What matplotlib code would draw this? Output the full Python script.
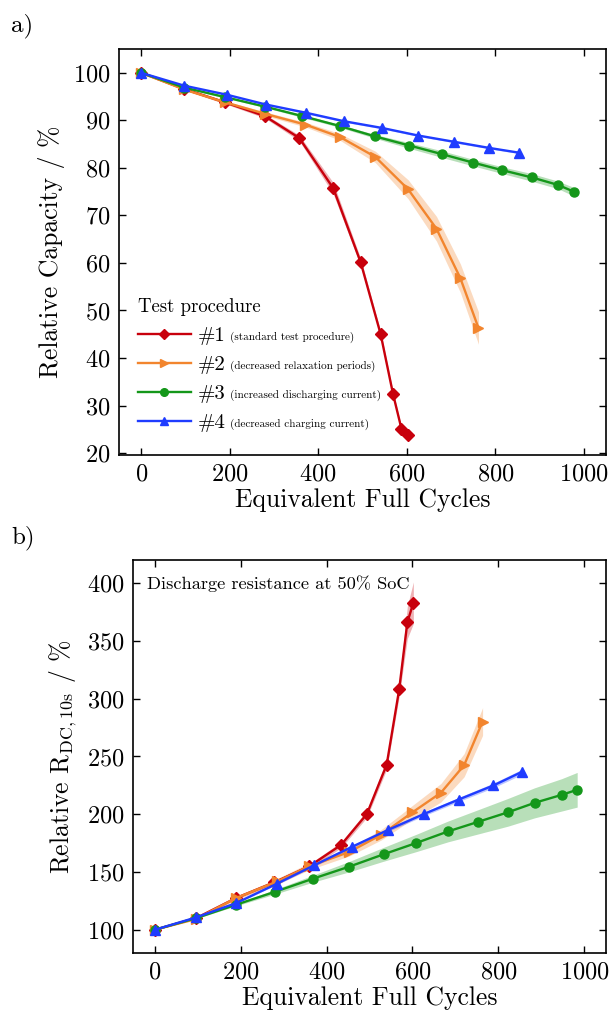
import matplotlib
matplotlib.use("Agg")
import matplotlib.pyplot as plt
import numpy as np

plt.rcParams['font.family'] = ['cmr10', 'DejaVu Serif']
plt.rcParams['mathtext.fontset'] = 'cm'
plt.rcParams['axes.unicode_minus'] = False
plt.rcParams['axes.formatter.use_mathtext'] = True

# ---------------- data: panel a (relative capacity) ----------------
cap_x1 = [0, 97, 189, 279, 357, 434, 496, 541, 569, 588, 602]
cap_y1 = [100, 96.6, 93.8, 90.9, 86.3, 75.7, 60.1, 45.0, 32.4, 25.1, 23.8]
cap_e1 = [0, 0.2, 0.3, 0.4, 0.6, 1.2, 0.8, 0.6, 0.5, 0.4, 0.4]

cap_x2 = [0, 97, 189, 279, 371, 449, 529, 603, 667, 721, 762]
cap_y2 = [100, 96.5, 93.8, 91.4, 89.1, 86.5, 82.3, 75.5, 67.2, 56.8, 46.3]
cap_e2 = [0, 0.2, 0.3, 0.4, 0.5, 0.7, 1.2, 2.0, 2.6, 3.0, 3.4]

cap_x3 = [0, 97, 189, 279, 364, 449, 529, 606, 679, 750, 816, 882, 942, 977]
cap_y3 = [100, 96.9, 94.9, 92.9, 90.9, 88.8, 86.6, 84.7, 82.9, 81.1, 79.5, 78.0, 76.4, 75.0]
cap_e3 = [0, 0.1, 0.2, 0.2, 0.3, 0.3, 0.4, 0.6, 0.7, 0.7, 0.7, 0.8, 0.8, 0.9]

cap_x4 = [0, 97, 193, 283, 372, 459, 544, 626, 706, 786, 853]
cap_y4 = [100, 97.3, 95.4, 93.3, 91.6, 89.8, 88.4, 86.8, 85.5, 84.2, 83.2]
cap_e4 = [0, 0.1, 0.1, 0.1, 0.2, 0.2, 0.2, 0.2, 0.2, 0.2, 0.2]

# ---------------- data: panel b (relative resistance) ----------------
res_x1 = [0, 97, 190, 278, 360, 434, 494, 540, 569, 588, 602]
res_y1 = [100, 110.2, 127.6, 141.0, 155.0, 173.5, 200.3, 243.0, 308.0, 366.0, 383.0]
res_e1 = [0, 0.5, 1.0, 1.5, 2.0, 2.5, 3.0, 4.0, 6.0, 14.0, 18.0]

res_x2 = [0, 97, 190, 286, 360, 453, 527, 600, 666, 720, 763]
res_y2 = [100, 109.5, 127.6, 142.0, 155.0, 167.4, 182.2, 201.7, 218.6, 242.4, 280.2]
res_e2 = [0, 0.8, 1.5, 2.5, 3.0, 3.5, 4.5, 6.0, 8.0, 10.0, 12.0]

res_x3 = [0, 97, 190, 280, 368, 453, 533, 609, 683, 753, 822, 884, 947, 983]
res_y3 = [100, 110.2, 121.8, 132.9, 144.2, 154.7, 165.4, 175.2, 185.2, 193.5, 201.7, 209.9, 216.8, 221.2]
res_e3 = [0, 0.5, 1.0, 2.0, 3.0, 4.5, 6.0, 7.5, 9.0, 10.5, 12.0, 13.0, 14.0, 15.0]

res_x4 = [0, 97, 190, 284, 372, 459, 544, 627, 707, 788, 854]
res_y4 = [100, 110.8, 123.2, 139.8, 156.0, 171.8, 186.6, 200.3, 212.7, 224.9, 236.6]
res_e4 = [0, 0.3, 0.5, 0.8, 1.0, 1.2, 1.4, 1.6, 1.8, 2.0, 2.2]

labels_num = ['#1', '#2', '#3', '#4']
labels_desc = ['(standard test procedure)', '(decreased relaxation periods)',
               '(increased discharging current)', '(decreased charging current)']
colors = ['#c8000c', '#f2852e', '#14971a', '#1f3cff']
markers = ['D', '>', 'o', '^']
msizes = [6.5, 7.5, 6.5, 7.5]

cap_series = [(cap_x1, cap_y1, cap_e1), (cap_x2, cap_y2, cap_e2),
              (cap_x3, cap_y3, cap_e3), (cap_x4, cap_y4, cap_e4)]
res_series = [(res_x1, res_y1, res_e1), (res_x2, res_y2, res_e2),
              (res_x3, res_y3, res_e3), (res_x4, res_y4, res_e4)]

fig = plt.figure(figsize=(6.11, 10.11), dpi=100)
axa = fig.add_axes([0.1948, 0.5500, 0.9918 - 0.1948, 0.9515 - 0.5500])
axb = fig.add_axes([0.2177, 0.0574, 0.9918 - 0.2177, 0.4461 - 0.0574])


def draw(ax, series):
    handles = []
    for (x, y, e), c, m, ms in zip(series, colors, markers, msizes):
        x = np.array(x); y = np.array(y); e = np.array(e)
        ax.fill_between(x, y - e, y + e, color=c, alpha=0.3, lw=0)
        h, = ax.plot(x, y, color=c, marker=m, ms=ms, lw=1.7, mec=c, mfc=c)
        handles.append(h)
    return handles


def style(ax):
    ax.tick_params(direction='in', top=True, right=True, length=5, width=1.0,
                   labelsize=17.5, pad=6)
    for s in ax.spines.values():
        s.set_linewidth(1.2)
    ax.set_xlim(-50, 1050)
    ax.set_xticks([0, 200, 400, 600, 800, 1000])
    ax.set_xlabel('Equivalent Full Cycles', fontsize=18.5, labelpad=2)


hands = draw(axa, cap_series)
style(axa)
axa.set_ylim(19.6, 105)
axa.set_yticks([20, 30, 40, 50, 60, 70, 80, 90, 100])
axa.set_ylabel('Relative Capacity / %', fontsize=18.5, labelpad=6)

leg = axa.legend(hands, labels_num, loc='lower left', bbox_to_anchor=(0.008, 0.02),
                 frameon=False, fontsize=15, title='Test procedure',
                 title_fontsize=13.5, numpoints=1, handlelength=2.55,
                 handletextpad=0.33, labelspacing=0.5, borderaxespad=0.3)
leg._legend_box.align = 'left'
for lh in leg.legend_handles:
    lh.set_markersize(5.5)

draw(axb, res_series)
style(axb)
axb.set_ylim(80, 420)
axb.set_yticks([100, 150, 200, 250, 300, 350, 400])
axb.set_ylabel(r'Relative R$_{\rm DC,10s}$ / %', fontsize=18.5, labelpad=6)
axb.text(0.03, 0.962, 'Discharge resistance at 50% SoC', transform=axb.transAxes,
         fontsize=13.2, va='top', ha='left')

fig.text(0.018, 0.975, 'a)', fontsize=18, ha='left', va='center')
fig.text(0.018, 0.468, 'b)', fontsize=18, ha='left', va='center')

# small description text next to each legend entry
fig.canvas.draw()
renderer = fig.canvas.get_renderer()
inv = fig.transFigure.inverted()
for t, d in zip(leg.get_texts(), labels_desc):
    bb = t.get_window_extent(renderer)
    x0, y0 = inv.transform((bb.x1 + 5, (bb.y0 + bb.y1) / 2 - 1))
    fig.text(x0, y0, d, fontsize=8, ha='left', va='center')

fig.savefig('out.png', dpi=100)
